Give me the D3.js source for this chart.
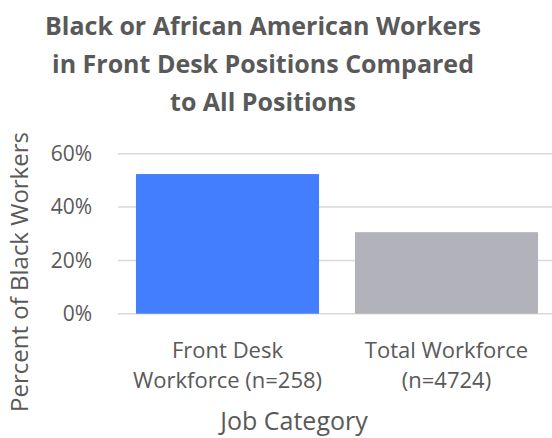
<!DOCTYPE html>
<html>
<head>
<meta charset="utf-8">
<script src="https://cdn.jsdelivr.net/npm/d3@7"></script>
<style>
  body { margin: 0; background: #fff; }
  svg text { font-family: "Open Sans", "Noto Sans", sans-serif; fill: #595959; }
</style>
</head>
<body>
<script>
// chart data
var categories = [["Front Desk", "Workforce (n=258)"], ["Total Workforce", "(n=4724)"]];
var values = [52.4, 30.6];
var colors = ["#437eff", "#b2b2ba"];
var yTicks = [0, 20, 40, 60];
var titleLines = ["Black or African American Workers", "in Front Desk Positions Compared", "to All Positions"];

var svgWidth = 552, svgHeight = 438;
var plotLeft = 118, plotRight = 556, plotTop = 153.8, plotBottom = 313.7;

var svg = d3.select('body').append('svg')
    .attr('width', svgWidth)
    .attr('height', svgHeight);

var x = d3.scaleBand()
    .domain(d3.range(values.length))
    .range([plotLeft, plotRight])
    .paddingInner(0.164)
    .paddingOuter(0.082);

var y = d3.scaleLinear()
    .domain([0, 60])
    .range([plotBottom, plotTop]);

// title
svg.append('text')
    .attr('text-anchor', 'middle')
    .style('font-weight', 'bold')
    .style('font-size', '25px')
    .selectAll('tspan')
    .data(titleLines)
    .enter()
    .append('tspan')
    .attr('x', 263)
    .attr('y', function(d, i) { return 35 + i * 38; })
    .text(function(d) { return d; });

// gridlines
svg.selectAll('line.grid')
    .data(yTicks)
    .enter()
    .append('line')
    .attr('class', 'grid')
    .attr('x1', plotLeft)
    .attr('x2', plotRight)
    .attr('y1', function(d) { return y(d); })
    .attr('y2', function(d) { return y(d); })
    .attr('stroke', '#d9d9d9')
    .attr('stroke-width', 1.5);

// y axis labels
var yAxis = d3.axisLeft(y)
    .tickValues(yTicks)
    .tickFormat(function(d) { return d + '%'; })
    .tickSize(0)
    .tickPadding(26);

var yg = svg.append('g')
    .attr('transform', 'translate(' + plotLeft + ',0)')
    .call(yAxis);
yg.select('.domain').remove();
yg.selectAll('text')
    .style('font-size', '21px')
    .attr('fill', '#595959');

// bars
svg.selectAll('rect.bar')
    .data(values)
    .enter()
    .append('rect')
    .attr('class', 'bar')
    .attr('x', function(d, i) { return x(i); })
    .attr('width', x.bandwidth())
    .attr('y', function(d) { return y(d); })
    .attr('height', function(d) { return y(0) - y(d); })
    .attr('fill', function(d, i) { return colors[i]; });

// category labels
var cat = svg.selectAll('text.cat')
    .data(categories)
    .enter()
    .append('text')
    .attr('class', 'cat')
    .attr('text-anchor', 'middle')
    .style('font-size', '22px');
cat.selectAll('tspan')
    .data(function(d, i) { return d.map(function(t) { return { t: t, i: i }; }); })
    .enter()
    .append('tspan')
    .attr('x', function(d) { return x(d.i) + x.bandwidth() / 2; })
    .attr('y', function(d, j) { return 358 + j * 30; })
    .text(function(d) { return d.t; });

// axis titles
svg.append('text')
    .attr('text-anchor', 'middle')
    .attr('x', 294)
    .attr('y', 430)
    .style('font-size', '25px')
    .text('Job Category');

svg.append('text')
    .attr('text-anchor', 'middle')
    .attr('transform', 'translate(28,272) rotate(-90)')
    .style('font-size', '24px')
    .text('Percent of Black Workers');
</script>
</body>
</html>
